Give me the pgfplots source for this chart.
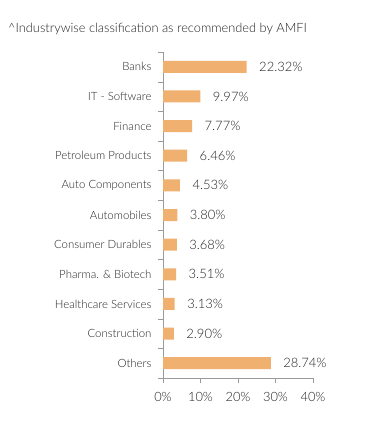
\documentclass[border=0pt]{standalone}
\usepackage{pgfplots}
\pgfplotsset{compat=1.18}
\usepackage{fontspec}
\setmainfont{Lato}[UprightFont=* Light]
\definecolor{barc}{HTML}{F0B070}
\definecolor{axc}{HTML}{9A9A9A}
\definecolor{txt}{HTML}{222222}
\begin{document}
\begin{tikzpicture}[x=1bp,y=1bp]
\useasboundingbox (0,0) rectangle (391,-431);
\node[anchor=west,font=\fontsize{12.8bp}{14bp}\selectfont,text=txt,inner sep=0pt] at (8,-29) {\^{}Industrywise classification as recommended by AMFI};
\begin{axis}[
  at={(163bp,-378bp)}, anchor=south west,
  scale only axis, width=150bp, height=326bp,
  xbar, bar width=12bp,
  xmin=0, xmax=40,
  ymin=-0.5, ymax=10.5, y dir=reverse,
  axis lines=left, axis line style={axc,-},
  xtick={0,10,20,30,40},
  xticklabel={\pgfmathprintnumber{\tick}\%},
  /pgf/number format/assume math mode=true,
  ytick={-0.5,0.5,...,10.5},
  yticklabels={},
  extra y ticks={0,...,10},
  extra y tick labels={Banks,IT - Software,Finance,Petroleum Products,Auto Components,Automobiles,Consumer Durables,Pharma. \& Biotech,Healthcare Services,Construction,Others},
  extra y tick style={major tick length=0pt, yticklabel style={font=\fontsize{11.4bp}{12bp}\selectfont,text=txt,xshift=-8bp}},
  major tick length=5bp,
  tick style={axc},
  tick align=outside,
  xticklabel style={font=\fontsize{12.8bp}{14bp}\selectfont,text=txt,yshift=-6bp},
  nodes near coords={\pgfmathprintnumber[fixed,fixed zerofill,precision=2]{\pgfplotspointmeta}\%},
  nodes near coords style={font=\fontsize{13bp}{14bp}\selectfont,text=txt,anchor=west,xshift=9bp},
  point meta=x,
  clip=false,
]
\addplot[fill=barc,draw=none] coordinates {
(22.32,0) (9.97,1) (7.77,2) (6.46,3) (4.53,4) (3.80,5) (3.68,6) (3.51,7) (3.13,8) (2.90,9) (28.74,10)};
\end{axis}
\end{tikzpicture}
\end{document}
